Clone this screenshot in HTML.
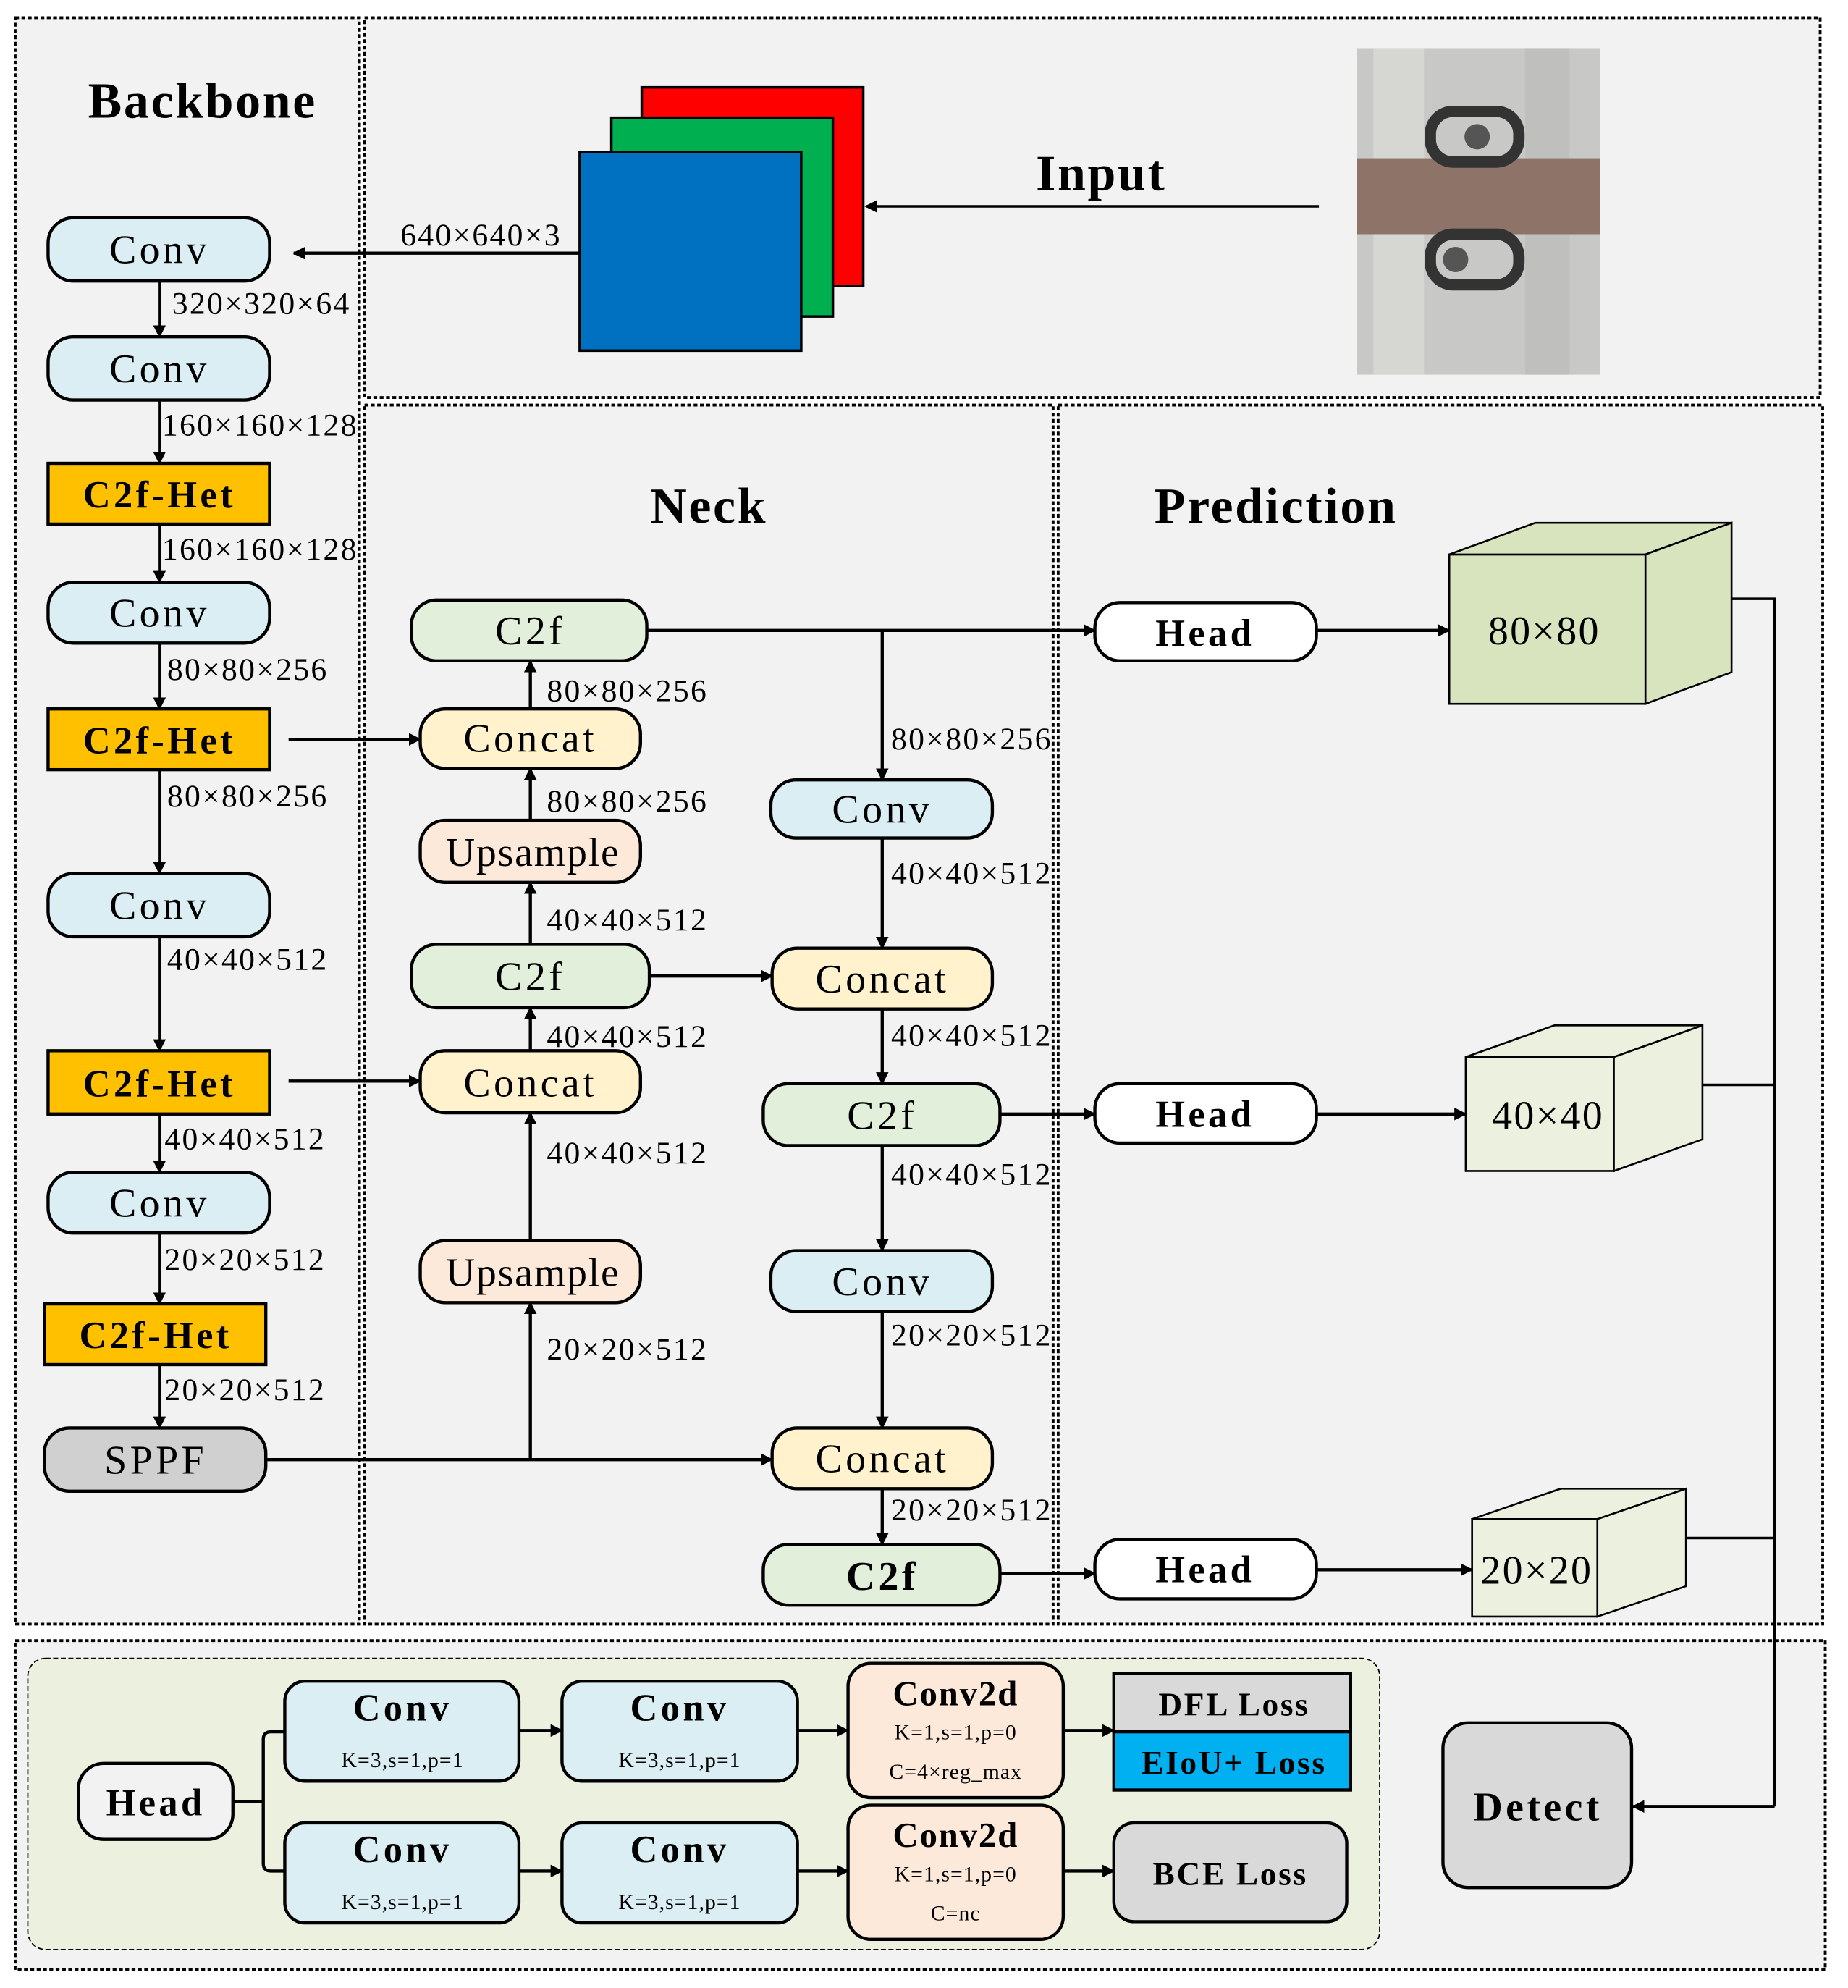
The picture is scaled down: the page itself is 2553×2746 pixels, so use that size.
<!DOCTYPE html>
<html><head><meta charset="utf-8"><style>
html,body{margin:0;padding:0;background:#fff}
svg{display:block}
text{font-family:"Liberation Serif",serif;fill:#000}
.lb text{letter-spacing:1.3px}
.nd text{letter-spacing:2.5px}
.tt{letter-spacing:1.5px}
</style></head><body>
<svg width="2553" height="2746" viewBox="0 0 1460 1570.4" preserveAspectRatio="none" xmlns="http://www.w3.org/2000/svg">
<defs>
<marker id="a" markerWidth="10" markerHeight="10" refX="9" refY="5" orient="auto" markerUnits="userSpaceOnUse" viewBox="0 0 10 10">
<path d="M0,0 L10,5 L0,10 z" fill="#000"/></marker>
</defs>
<rect x="0" y="0" width="1460" height="1571" fill="#fff"/>
<g fill="#f2f2f2" stroke="#000" stroke-width="2.2" stroke-dasharray="3,2">
<rect x="12" y="14" width="272" height="1269"/>
<rect x="288" y="14" width="1150" height="300"/>
<rect x="288" y="320" width="544" height="963"/>
<rect x="836" y="320" width="604" height="963"/>
<rect x="12" y="1296" width="1430" height="260"/>
</g>
<text class="tt" x="160" y="93" font-size="40" font-weight="bold" text-anchor="middle">Backbone</text>
<text class="tt" x="870" y="150" font-size="40" font-weight="bold" text-anchor="middle">Input</text>
<text class="tt" x="560" y="413" font-size="40" font-weight="bold" text-anchor="middle">Neck</text>
<text class="tt" x="1008" y="413" font-size="40" font-weight="bold" text-anchor="middle">Prediction</text>

<rect x="507" y="69" width="175" height="157" fill="#ff0000" stroke="#000" stroke-width="2"/>
<rect x="483" y="93" width="175" height="157" fill="#00b050" stroke="#000" stroke-width="2"/>
<rect x="458" y="120" width="175" height="157" fill="#0070c0" stroke="#000" stroke-width="2"/>
<line x1="1042" y1="163" x2="684" y2="163" stroke="#000" stroke-width="2" marker-end="url(#a)"/>
<line x1="458" y1="200" x2="232" y2="200" stroke="#000" stroke-width="2.5" marker-end="url(#a)"/>
<g class="lb"><text x="380" y="194" font-size="25" text-anchor="middle">640×640×3</text></g>
<rect x="1072" y="38" width="192" height="258" fill="#c8c9c6"/>
<rect x="1085" y="38" width="40" height="258" fill="#d6d7d3"/>
<rect x="1205" y="38" width="35" height="258" fill="#bfc0bd"/>
<rect x="1072" y="125" width="192" height="60" fill="#8e7468"/>
<g fill="none" stroke="#333" stroke-width="9">
<rect x="1130" y="88" width="70" height="40" rx="18"/>
<rect x="1130" y="185" width="70" height="40" rx="18"/>
</g>
<circle cx="1167" cy="108" r="10" fill="#555"/>
<circle cx="1150" cy="205" r="10" fill="#555"/>

<g stroke="#000" stroke-width="2.5">
<rect x="38" y="172" width="175" height="50" rx="20" fill="#daeef3"/>
<rect x="38" y="266" width="175" height="50" rx="20" fill="#daeef3"/>
<rect x="38" y="366" width="175" height="48" fill="#ffc000"/>
<rect x="38" y="460" width="175" height="48" rx="20" fill="#daeef3"/>
<rect x="38" y="560" width="175" height="48" fill="#ffc000"/>
<rect x="38" y="690" width="175" height="50" rx="20" fill="#daeef3"/>
<rect x="38" y="830" width="175" height="50" fill="#ffc000"/>
<rect x="38" y="926" width="175" height="48" rx="20" fill="#daeef3"/>
<rect x="35" y="1030" width="175" height="48" fill="#ffc000"/>
<rect x="35" y="1128" width="175" height="50" rx="20" fill="#d0d0d0"/>
</g>
<g class="nd" font-size="32" text-anchor="middle">
<text x="126" y="208">Conv</text>
<text x="126" y="302">Conv</text>
<text x="126" y="495">Conv</text>
<text x="126" y="726">Conv</text>
<text x="126" y="961">Conv</text>
<text x="123" y="1164" fill="#333">SPPF</text>
</g>
<g class="nd" font-size="30" font-weight="bold" text-anchor="middle">
<text x="126" y="401">C2f-Het</text>
<text x="126" y="595">C2f-Het</text>
<text x="126" y="866">C2f-Het</text>
<text x="123" y="1065">C2f-Het</text>
</g>
<g stroke="#000" stroke-width="2.5" marker-end="url(#a)">
<line x1="126" y1="222" x2="126" y2="266"/>
<line x1="126" y1="316" x2="126" y2="366"/>
<line x1="126" y1="414" x2="126" y2="460"/>
<line x1="126" y1="508" x2="126" y2="560"/>
<line x1="126" y1="608" x2="126" y2="690"/>
<line x1="126" y1="740" x2="126" y2="830"/>
<line x1="126" y1="880" x2="126" y2="926"/>
<line x1="126" y1="974" x2="126" y2="1030"/>
<line x1="126" y1="1078" x2="126" y2="1128"/>
</g>
<g class="lb" font-size="25">
<text x="136" y="248">320×320×64</text>
<text x="128" y="344">160×160×128</text>
<text x="128" y="442">160×160×128</text>
<text x="132" y="537">80×80×256</text>
<text x="132" y="637">80×80×256</text>
<text x="132" y="766">40×40×512</text>
<text x="130" y="908">40×40×512</text>
<text x="130" y="1003">20×20×512</text>
<text x="130" y="1106">20×20×512</text>
</g>

<g stroke="#000" stroke-width="2.5">
<rect x="325" y="474" width="186" height="48" rx="20" fill="#e2efda"/>
<rect x="332" y="560" width="174" height="47" rx="20" fill="#fff2cc"/>
<rect x="332" y="648" width="174" height="49" rx="20" fill="#fde9d9"/>
<rect x="325" y="746" width="188" height="50" rx="20" fill="#e2efda"/>
<rect x="332" y="830" width="174" height="49" rx="20" fill="#fff2cc"/>
<rect x="332" y="980" width="174" height="49" rx="20" fill="#fde9d9"/>
<rect x="609" y="616" width="175" height="46" rx="20" fill="#daeef3"/>
<rect x="610" y="749" width="174" height="48" rx="20" fill="#fff2cc"/>
<rect x="603" y="856" width="187" height="49" rx="20" fill="#e2efda"/>
<rect x="609" y="988" width="175" height="48" rx="20" fill="#daeef3"/>
<rect x="610" y="1128" width="174" height="48" rx="20" fill="#fff2cc"/>
<rect x="603" y="1220" width="187" height="48" rx="20" fill="#e2efda"/>
</g>
<g class="nd" font-size="32" text-anchor="middle">
<text x="419" y="509">C2f</text>
<text x="419" y="594">Concat</text>
<text x="421" y="684" style="letter-spacing:1px">Upsample</text>
<text x="419" y="782">C2f</text>
<text x="419" y="866">Concat</text>
<text x="421" y="1016" style="letter-spacing:1px">Upsample</text>
<text x="697" y="650">Conv</text>
<text x="697" y="784">Concat</text>
<text x="697" y="892">C2f</text>
<text x="697" y="1023">Conv</text>
<text x="697" y="1163">Concat</text>
<text x="697" y="1256" font-weight="bold">C2f</text>
</g>
<g stroke="#000" stroke-width="2.5" fill="none" marker-end="url(#a)">
<line x1="228" y1="584" x2="332" y2="584"/>
<line x1="228" y1="854" x2="332" y2="854"/>
<line x1="210" y1="1153" x2="610" y2="1153"/>
<polyline points="419,1153 419,1029"/>
<line x1="419" y1="980" x2="419" y2="879"/>
<line x1="419" y1="830" x2="419" y2="796"/>
<line x1="419" y1="746" x2="419" y2="697"/>
<line x1="419" y1="648" x2="419" y2="607"/>
<line x1="419" y1="560" x2="419" y2="522"/>
<line x1="511" y1="498" x2="865" y2="498"/>
<line x1="697" y1="498" x2="697" y2="616"/>
<line x1="697" y1="662" x2="697" y2="749"/>
<line x1="513" y1="771" x2="610" y2="771"/>
<line x1="697" y1="797" x2="697" y2="856"/>
<line x1="697" y1="905" x2="697" y2="988"/>
<line x1="697" y1="1036" x2="697" y2="1128"/>
<line x1="697" y1="1176" x2="697" y2="1220"/>
<line x1="790" y1="880" x2="865" y2="880"/>
<line x1="790" y1="1243" x2="865" y2="1243"/>
<line x1="1040" y1="498" x2="1145" y2="498"/>
<line x1="1040" y1="880" x2="1158" y2="880"/>
<line x1="1040" y1="1240" x2="1163" y2="1240"/>
</g>
<g class="lb" font-size="25">
<text x="432" y="554">80×80×256</text>
<text x="432" y="641">80×80×256</text>
<text x="432" y="735">40×40×512</text>
<text x="432" y="827">40×40×512</text>
<text x="432" y="919">40×40×512</text>
<text x="432" y="1074">20×20×512</text>
<text x="704" y="592">80×80×256</text>
<text x="704" y="698">40×40×512</text>
<text x="704" y="826">40×40×512</text>
<text x="704" y="936">40×40×512</text>
<text x="704" y="1063">20×20×512</text>
<text x="704" y="1201">20×20×512</text>
</g>

<g stroke="#000" stroke-width="2.5" fill="#fff">
<rect x="865" y="476" width="175" height="46" rx="20"/>
<rect x="865" y="856" width="175" height="47" rx="20"/>
<rect x="865" y="1216" width="175" height="47" rx="20"/>
</g>
<g class="nd" font-size="30" font-weight="bold" text-anchor="middle">
<text x="952" y="510">Head</text>
<text x="952" y="890">Head</text>
<text x="952" y="1250">Head</text>
</g>
<g stroke="#000" stroke-width="1.5" fill="#d7e4bd">
<rect x="1145" y="438" width="155" height="118"/>
<polygon points="1145,438 1213,413 1368,413 1300,438"/>
<polygon points="1300,438 1368,413 1368,531 1300,556"/>
</g>
<g stroke="#000" stroke-width="1.5" fill="#ebf1de">
<rect x="1158" y="835" width="117" height="90"/>
<polygon points="1158,835 1228,810 1345,810 1275,835"/>
<polygon points="1275,835 1345,810 1345,900 1275,925"/>
<rect x="1163" y="1200" width="99" height="77"/>
<polygon points="1163,1200 1233,1176 1332,1176 1262,1200"/>
<polygon points="1262,1200 1332,1176 1332,1253 1262,1277"/>
</g>
<g class="lb" font-size="32" text-anchor="middle">
<text x="1220" y="509">80×80</text>
<text x="1223" y="892">40×40</text>
<text x="1214" y="1251">20×20</text>
</g>
<g stroke="#000" stroke-width="2" fill="none">
<polyline points="1368,473 1402,473 1402,1427"/>
<line x1="1345" y1="857" x2="1402" y2="857"/>
<line x1="1332" y1="1215" x2="1402" y2="1215"/>
<line x1="1402" y1="1427" x2="1290" y2="1427" stroke-width="2.5" marker-end="url(#a)"/>
</g>

<rect x="22" y="1310" width="1068" height="230" rx="14" fill="#ebf1de" stroke="#000" stroke-width="1" stroke-dasharray="4,2"/>
<g stroke="#000" stroke-width="2.5">
<rect x="62" y="1393" width="122" height="60" rx="20" fill="#f2f2f2"/>
<rect x="225" y="1328" width="185" height="79" rx="16" fill="#daeef3"/>
<rect x="444" y="1328" width="186" height="79" rx="16" fill="#daeef3"/>
<rect x="225" y="1440" width="185" height="79" rx="16" fill="#daeef3"/>
<rect x="444" y="1440" width="186" height="79" rx="16" fill="#daeef3"/>
<rect x="670" y="1314" width="170" height="106" rx="18" fill="#fde9d9"/>
<rect x="670" y="1426" width="170" height="106" rx="18" fill="#fde9d9"/>
<rect x="880" y="1322" width="187" height="46" fill="#d9d9d9"/>
<rect x="880" y="1368" width="187" height="46" fill="#00b0f0"/>
<rect x="880" y="1440" width="184" height="78" rx="16" fill="#d9d9d9"/>
<rect x="1140" y="1361" width="149" height="130" rx="20" fill="#d9d9d9"/>
</g>
<g stroke="#000" stroke-width="2.5" fill="none">
<line x1="184" y1="1423" x2="208" y2="1423"/>
<path d="M225,1368 H214 Q208,1368 208,1374 V1472 Q208,1478 214,1478 H225"/>
</g>
<g stroke="#000" stroke-width="2.5" marker-end="url(#a)">
<line x1="410" y1="1367" x2="444" y2="1367"/>
<line x1="630" y1="1367" x2="670" y2="1367"/>
<line x1="840" y1="1367" x2="880" y2="1367"/>
<line x1="410" y1="1478" x2="444" y2="1478"/>
<line x1="630" y1="1478" x2="670" y2="1478"/>
<line x1="840" y1="1478" x2="880" y2="1478"/>
</g>
<g class="nd" font-weight="bold" text-anchor="middle">
<text x="123" y="1434" font-size="30">Head</text>
<text x="318" y="1359" font-size="30">Conv</text>
<text x="537" y="1359" font-size="30">Conv</text>
<text x="318" y="1471" font-size="30">Conv</text>
<text x="537" y="1471" font-size="30">Conv</text>
<text x="755" y="1347" font-size="28" style="letter-spacing:1px">Conv2d</text>
<text x="755" y="1459" font-size="28" style="letter-spacing:1px">Conv2d</text>
<text x="975" y="1355" font-size="26" style="letter-spacing:1.5px">DFL  Loss</text>
<text x="975" y="1401" font-size="26" style="letter-spacing:1.5px">EIoU+  Loss</text>
<text x="972" y="1489" font-size="26" style="letter-spacing:1.5px">BCE  Loss</text>
<text x="1215" y="1438" font-size="32">Detect</text>
</g>
<g font-size="17" text-anchor="middle" style="letter-spacing:0.6px">
<text x="318" y="1396">K=3,s=1,p=1</text>
<text x="537" y="1396">K=3,s=1,p=1</text>
<text x="318" y="1508">K=3,s=1,p=1</text>
<text x="537" y="1508">K=3,s=1,p=1</text>
<text x="755" y="1374">K=1,s=1,p=0</text>
<text x="755" y="1405">C=4×reg_max</text>
<text x="755" y="1486">K=1,s=1,p=0</text>
<text x="755" y="1517">C=nc</text>
</g>
</svg>
</body></html>
